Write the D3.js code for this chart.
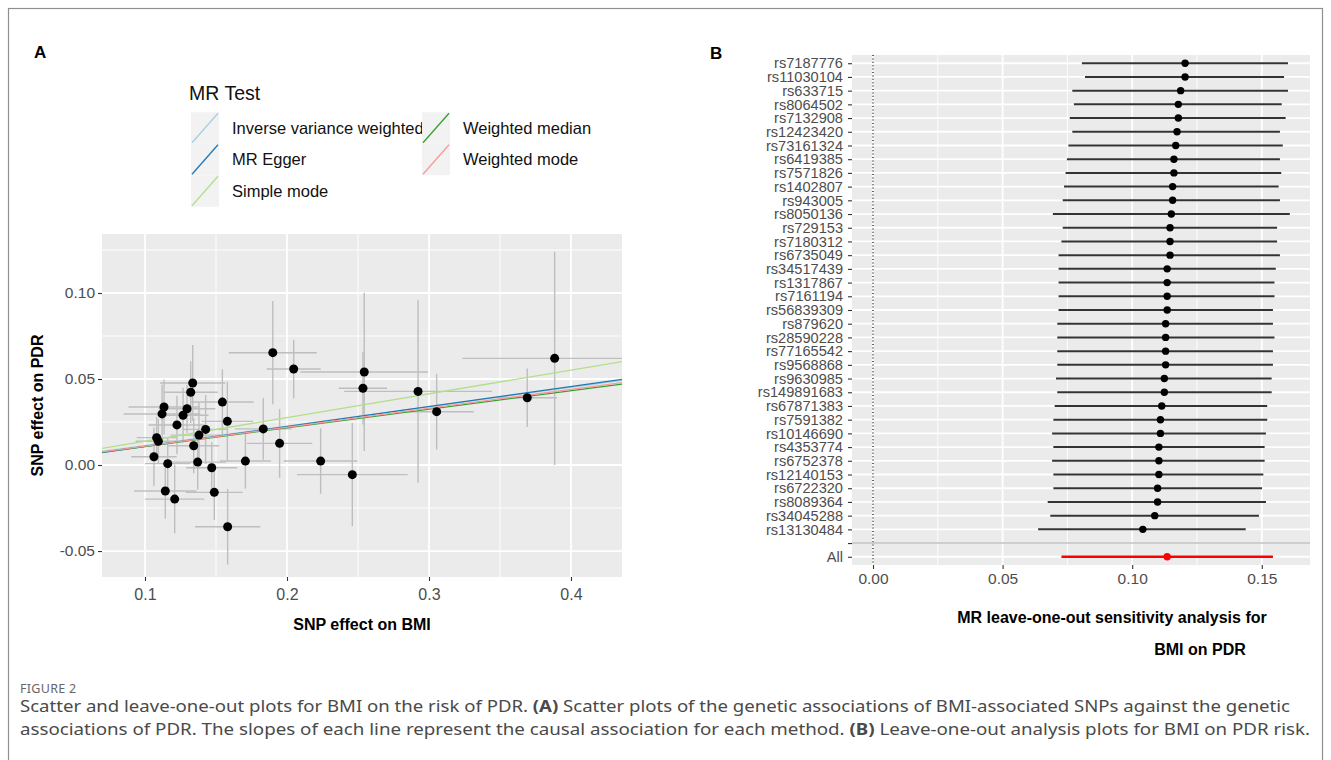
<!DOCTYPE html>
<html>
<head>
<meta charset="utf-8">
<script src="https://cdn.jsdelivr.net/npm/d3@7"></script>
<style>
    body { margin: 0; background: #fff; }
    svg text { font-family: "Liberation Sans", Arial, sans-serif; }
</style>
</head>
<body>
<svg id="fig" width="1331" height="760"></svg>
<script>
// ---- panel A: SNP effects (one entry per SNP) ----
var bmiBeta = [0.190, 0.2047, 0.1336, 0.1322, 0.1134, 0.112, 0.1296, 0.1268, 0.1545, 0.158,
               0.1225, 0.1427, 0.1833, 0.1082, 0.1094, 0.138, 0.1343, 0.1948, 0.1063, 0.116,
               0.1371, 0.147, 0.1707, 0.2237, 0.246, 0.1143, 0.1488, 0.1209, 0.1582, 0.2544,
               0.2535, 0.2923, 0.3054, 0.3692, 0.3885];
var bmiSe = [0.031, 0.019, 0.023, 0.019, 0.025, 0.027, 0.020, 0.018, 0.022, 0.018,
             0.020, 0.016, 0.020, 0.014, 0.016, 0.020, 0.018, 0.023, 0.016, 0.016,
             0.020, 0.018, 0.018, 0.026, 0.039, 0.022, 0.020, 0.021, 0.023, 0.045,
             0.017, 0.052, 0.026, 0.021, 0.065];
var pdrBeta = [0.0653, 0.0558, 0.0477, 0.0423, 0.0337, 0.0297, 0.0327, 0.0289, 0.0366, 0.0254,
               0.0233, 0.0207, 0.021, 0.0159, 0.0138, 0.0174, 0.0112, 0.0126, 0.0048, 0.0008,
               0.0017, -0.0016, 0.0023, 0.0023, -0.0056, -0.0151, -0.0159, -0.0198, -0.0359, 0.0541,
               0.0446, 0.0428, 0.031, 0.0391, 0.062];
var pdrSe = [0.030, 0.017, 0.022, 0.018, 0.016, 0.017, 0.014, 0.016, 0.019, 0.023,
             0.017, 0.020, 0.018, 0.012, 0.013, 0.019, 0.016, 0.020, 0.017, 0.015,
             0.016, 0.015, 0.016, 0.019, 0.030, 0.016, 0.016, 0.020, 0.022, 0.046,
             0.021, 0.053, 0.022, 0.017, 0.062];

var mrMethods = ["Inverse variance weighted", "MR Egger", "Simple mode", "Weighted median", "Weighted mode"];
var mrSlope = [0.113, 0.116, 0.138, 0.108, 0.110];
var mrIntercept = [0, -0.0008, 0, 0, 0];

var bmiTicks = [0.1, 0.2, 0.3, 0.4];
var bmiMinor = [0.15, 0.25, 0.35];
var pdrTicks = [-0.05, 0, 0.05, 0.10];
var pdrMinor = [-0.025, 0.025, 0.075, 0.125];

// ---- panel B: leave-one-out estimates ----
var snpNames = ["rs7187776", "rs11030104", "rs633715", "rs8064502", "rs7132908", "rs12423420",
                "rs73161324", "rs6419385", "rs7571826", "rs1402807", "rs943005", "rs8050136",
                "rs729153", "rs7180312", "rs6735049", "rs34517439", "rs1317867", "rs7161194",
                "rs56839309", "rs879620", "rs28590228", "rs77165542", "rs9568868", "rs9630985",
                "rs149891683", "rs67871383", "rs7591382", "rs10146690", "rs4353774", "rs6752378",
                "rs12140153", "rs6722320", "rs8089364", "rs34045288", "rs13130484"];
var looB = [0.1204, 0.1204, 0.1187, 0.1178, 0.1178, 0.1173, 0.1168, 0.1161, 0.1161, 0.1156,
            0.1156, 0.1151, 0.1146, 0.1146, 0.1146, 0.1135, 0.1135, 0.1135, 0.1135, 0.1129,
            0.1129, 0.1129, 0.1129, 0.1124, 0.1124, 0.1114, 0.1109, 0.1109, 0.1103, 0.1103,
            0.1103, 0.1098, 0.1098, 0.1087, 0.1041];
var looLo = [0.0806, 0.0818, 0.0769, 0.0775, 0.0759, 0.0769, 0.0754, 0.0748, 0.0743, 0.0737,
             0.0732, 0.0694, 0.0732, 0.0727, 0.0716, 0.0716, 0.0716, 0.0716, 0.0716, 0.0711,
             0.0711, 0.0711, 0.0711, 0.0706, 0.0711, 0.0701, 0.0696, 0.0691, 0.0696, 0.0691,
             0.0696, 0.0696, 0.0674, 0.0684, 0.0637];
var looHi = [0.1601, 0.1586, 0.1601, 0.1577, 0.1592, 0.1570, 0.1581, 0.1570, 0.1575, 0.1565,
             0.1570, 0.1608, 0.1559, 0.1559, 0.1570, 0.1554, 0.1549, 0.1549, 0.1543, 0.1543,
             0.1549, 0.1543, 0.1543, 0.1538, 0.1538, 0.1521, 0.1521, 0.1516, 0.1511, 0.1511,
             0.1506, 0.1501, 0.1516, 0.1489, 0.1438];
var allB = 0.1135, allLo = 0.0727, allHi = 0.1543;
var looTicks = [0, 0.05, 0.10, 0.15];
var looMinor = [0.025, 0.075, 0.125];

var methodColor = d3.scaleOrdinal().domain(mrMethods)
    .range(["#a6cee3", "#1f78b4", "#b2df8a", "#33a02c", "#fb9a99"]);

// ggplot prints a plain hyphen for negatives
function fmt(spec) {
    var f = d3.format(spec);
    return function (d) { return f(d).replace("\u2212", "-"); };
}

var svg = d3.select("#fig");
svg.append("rect").attr("width", 1331).attr("height", 760).attr("fill", "#fff");
svg.append("rect").attr("x", 8.5).attr("y", 8.5).attr("width", 1314).attr("height", 780)
    .attr("fill", "none").attr("stroke", "#8f8f8f").attr("stroke-width", 1.2);

function styleAxis(g, size) {
    g.select(".domain").remove();
    g.selectAll(".tick line").attr("stroke", "#333").attr("stroke-width", 1.1);
    g.selectAll(".tick text").attr("fill", "#4d4d4d").style("font-size", size + "px")
        .style("font-family", '"Liberation Sans", Arial, sans-serif');
}

// ================= panel A =================
var pa = { left: 102, right: 622, top: 234, bottom: 577 };
var xA = d3.scaleLinear().domain([0.06972, 0.43592]).range([pa.left, pa.right]);
var yA = d3.scaleLinear().domain([-0.0651, 0.1343]).range([pa.bottom, pa.top]);

svg.append("text").attr("x", 34).attr("y", 58).text("A")
    .style("font-size", "17px").style("font-weight", "bold");

svg.append("rect").attr("x", pa.left).attr("y", pa.top)
    .attr("width", pa.right - pa.left).attr("height", pa.bottom - pa.top).attr("fill", "#ebebeb");

svg.append("clipPath").attr("id", "clipA").append("rect")
    .attr("x", pa.left).attr("y", pa.top)
    .attr("width", pa.right - pa.left).attr("height", pa.bottom - pa.top);

var gridA = svg.append("g");
gridA.selectAll("line.vmin").data(bmiMinor).enter().append("line")
    .attr("x1", xA).attr("x2", xA).attr("y1", pa.top).attr("y2", pa.bottom)
    .attr("stroke", "#fff").attr("stroke-width", 0.9);
gridA.selectAll("line.hmin").data(pdrMinor).enter().append("line")
    .attr("x1", pa.left).attr("x2", pa.right).attr("y1", yA).attr("y2", yA)
    .attr("stroke", "#fff").attr("stroke-width", 0.9);
gridA.selectAll("line.vmaj").data(bmiTicks).enter().append("line")
    .attr("x1", xA).attr("x2", xA).attr("y1", pa.top).attr("y2", pa.bottom)
    .attr("stroke", "#fff").attr("stroke-width", 1.8);
gridA.selectAll("line.hmaj").data(pdrTicks).enter().append("line")
    .attr("x1", pa.left).attr("x2", pa.right).attr("y1", yA).attr("y2", yA)
    .attr("stroke", "#fff").attr("stroke-width", 1.8);

var snps = bmiBeta.map(function (d, i) {
    return { x: d, y: pdrBeta[i], xse: bmiSe[i], yse: pdrSe[i] };
});

var plotA = svg.append("g").attr("clip-path", "url(#clipA)");
// error bars
plotA.selectAll("line.ebx").data(snps).enter().append("line")
    .attr("x1", function (d) { return xA(d.x - d.xse); })
    .attr("x2", function (d) { return xA(d.x + d.xse); })
    .attr("y1", function (d) { return yA(d.y); })
    .attr("y2", function (d) { return yA(d.y); })
    .attr("stroke", "#bebebe").attr("stroke-width", 1.4);
plotA.selectAll("line.eby").data(snps).enter().append("line")
    .attr("x1", function (d) { return xA(d.x); })
    .attr("x2", function (d) { return xA(d.x); })
    .attr("y1", function (d) { return yA(d.y - d.yse); })
    .attr("y2", function (d) { return yA(d.y + d.yse); })
    .attr("stroke", "#bebebe").attr("stroke-width", 1.4);
// MR fit lines
plotA.selectAll("line.fit").data(mrMethods).enter().append("line")
    .attr("x1", xA.range()[0]).attr("x2", xA.range()[1])
    .attr("y1", function (d, i) { return yA(mrIntercept[i] + mrSlope[i] * xA.domain()[0]); })
    .attr("y2", function (d, i) { return yA(mrIntercept[i] + mrSlope[i] * xA.domain()[1]); })
    .attr("stroke", function (d) { return methodColor(d); }).attr("stroke-width", 1.3);
plotA.selectAll("circle").data(snps).enter().append("circle")
    .attr("cx", function (d) { return xA(d.x); })
    .attr("cy", function (d) { return yA(d.y); })
    .attr("r", 4.5).attr("fill", "#000");

var axA = svg.append("g").attr("transform", "translate(0," + pa.bottom + ")")
    .call(d3.axisBottom(xA).tickValues(bmiTicks).tickSize(4).tickPadding(8).tickFormat(fmt(".1f")));
styleAxis(axA, 16);
var ayA = svg.append("g").attr("transform", "translate(" + pa.left + ",0)")
    .call(d3.axisLeft(yA).tickValues(pdrTicks).tickSize(4).tickPadding(3).tickFormat(fmt(".2f")));
styleAxis(ayA, 15.5);

svg.append("text").attr("x", (pa.left + pa.right) / 2).attr("y", 630).attr("text-anchor", "middle")
    .text("SNP effect on BMI").style("font-size", "16px").style("font-weight", "bold");
svg.append("text").attr("transform", "translate(43," + (pa.top + pa.bottom) / 2 + ") rotate(-90)")
    .attr("text-anchor", "middle").text("SNP effect on PDR")
    .style("font-size", "16px").style("font-weight", "bold");

// legend
var legend = svg.append("g");
legend.append("text").attr("x", 189).attr("y", 100).text("MR Test").style("font-size", "19.5px").attr("fill", "#111");
var keyW = 28, keyH = 31.5, colX = [191, 422];
var keys = legend.selectAll("g.key").data(mrMethods).enter().append("g")
    .attr("transform", function (d, i) {
        var col = i < 3 ? 0 : 1, row = i < 3 ? i : i - 3;
        return "translate(" + colX[col] + "," + (112.25 + row * keyH) + ")";
    });
keys.append("rect").attr("width", keyW).attr("height", keyH).attr("fill", "#f2f2f2");
keys.append("line").attr("x1", 1).attr("y1", keyH - 1).attr("x2", keyW - 1).attr("y2", 1)
    .attr("stroke", function (d) { return methodColor(d); }).attr("stroke-width", 1.3);
keys.append("text").attr("x", 41).attr("y", keyH / 2).attr("dy", "0.36em")
    .text(String).style("font-size", "16.5px").attr("fill", "#111");

// ================= panel B =================
var pb = { left: 852, right: 1310, top: 55, bottom: 565 };
var rows = snpNames.concat(["", "All"]);
var xB = d3.scaleLinear().domain([-0.0081, 0.1686]).range([pb.left, pb.right]);
var yB = d3.scalePoint().domain(rows).range([pb.top, pb.bottom]).padding(0.6);

svg.append("text").attr("x", 710).attr("y", 59).text("B")
    .style("font-size", "17px").style("font-weight", "bold");

svg.append("rect").attr("x", pb.left).attr("y", pb.top)
    .attr("width", pb.right - pb.left).attr("height", pb.bottom - pb.top).attr("fill", "#ebebeb");

var gridB = svg.append("g");
gridB.selectAll("line.vmin").data(looMinor).enter().append("line")
    .attr("x1", xB).attr("x2", xB).attr("y1", pb.top).attr("y2", pb.bottom)
    .attr("stroke", "#fff").attr("stroke-width", 0.9);
gridB.selectAll("line.vmaj").data(looTicks).enter().append("line")
    .attr("x1", xB).attr("x2", xB).attr("y1", pb.top).attr("y2", pb.bottom)
    .attr("stroke", "#fff").attr("stroke-width", 1.8);
gridB.selectAll("line.hmaj").data(rows).enter().append("line")
    .attr("x1", pb.left).attr("x2", pb.right).attr("y1", yB).attr("y2", yB)
    .attr("stroke", "#fff").attr("stroke-width", 1.8);

// dotted null line and separator
svg.append("line").attr("x1", xB(0)).attr("x2", xB(0)).attr("y1", pb.top).attr("y2", pb.bottom)
    .attr("stroke", "#000").attr("stroke-width", 1.2).attr("stroke-dasharray", "1,2.4");
svg.append("line").attr("x1", pb.left).attr("x2", pb.right).attr("y1", yB("")).attr("y2", yB(""))
    .attr("stroke", "#bebebe").attr("stroke-width", 1.4);

var loo = snpNames.map(function (d, i) {
    return { snp: d, b: looB[i], lo: looLo[i], hi: looHi[i], col: "#333", pt: "#000" };
});
loo.push({ snp: "All", b: allB, lo: allLo, hi: allHi, col: "#ff0000", pt: "#ff0000" });

var rowsB = svg.append("g").selectAll("g").data(loo).enter().append("g");
rowsB.append("line")
    .attr("x1", function (d) { return xB(d.lo); })
    .attr("x2", function (d) { return xB(d.hi); })
    .attr("y1", function (d) { return yB(d.snp); })
    .attr("y2", function (d) { return yB(d.snp); })
    .attr("stroke", function (d) { return d.col; })
    .attr("stroke-width", function (d) { return d.snp === "All" ? 2.6 : 2; });
rowsB.append("circle")
    .attr("cx", function (d) { return xB(d.b); })
    .attr("cy", function (d) { return yB(d.snp); })
    .attr("r", 3.7).attr("fill", function (d) { return d.pt; });

var axB = svg.append("g").attr("transform", "translate(0," + pb.bottom + ")")
    .call(d3.axisBottom(xB).tickValues(looTicks).tickSize(4).tickPadding(4).tickFormat(fmt(".2f")));
styleAxis(axB, 15.5);
var ayB = svg.append("g").attr("transform", "translate(" + pb.left + ",0)")
    .call(d3.axisLeft(yB).tickSize(4).tickPadding(5));
styleAxis(ayB, 14.6);

svg.append("text").attr("x", 1112).attr("y", 623).attr("text-anchor", "middle")
    .text("MR leave-one-out sensitivity analysis for").style("font-size", "16px").style("font-weight", "bold");
svg.append("text").attr("x", 1200).attr("y", 655).attr("text-anchor", "middle")
    .text("BMI on PDR").style("font-size", "16px").style("font-weight", "bold");

// ================= caption =================
var capFont = '"Noto Sans", "Open Sans", sans-serif';
svg.append("text").attr("x", 20).attr("y", 693).text("FIGURE 2")
    .style("font-family", capFont).style("font-size", "12.5px").attr("fill", "#666")
    .style("letter-spacing", "0.3px");

var cap1 = svg.append("text").attr("x", 20).attr("y", 712).attr("textLength", 1270)
    .attr("lengthAdjust", "spacingAndGlyphs")
    .style("font-family", capFont).style("font-size", "15.5px").attr("fill", "#4a4a4a");
cap1.append("tspan").text("Scatter and leave-one-out plots for BMI on the risk of PDR. ");
cap1.append("tspan").text("(A)").style("font-weight", "bold");
cap1.append("tspan").text(" Scatter plots of the genetic associations of BMI-associated SNPs against the genetic");

var cap2 = svg.append("text").attr("x", 20).attr("y", 735).attr("textLength", 1290)
    .attr("lengthAdjust", "spacingAndGlyphs")
    .style("font-family", capFont).style("font-size", "15.5px").attr("fill", "#4a4a4a");
cap2.append("tspan").text("associations of PDR. The slopes of each line represent the causal association for each method. ");
cap2.append("tspan").text("(B)").style("font-weight", "bold");
cap2.append("tspan").text(" Leave-one-out analysis plots for BMI on PDR risk.");
</script>
</body>
</html>
